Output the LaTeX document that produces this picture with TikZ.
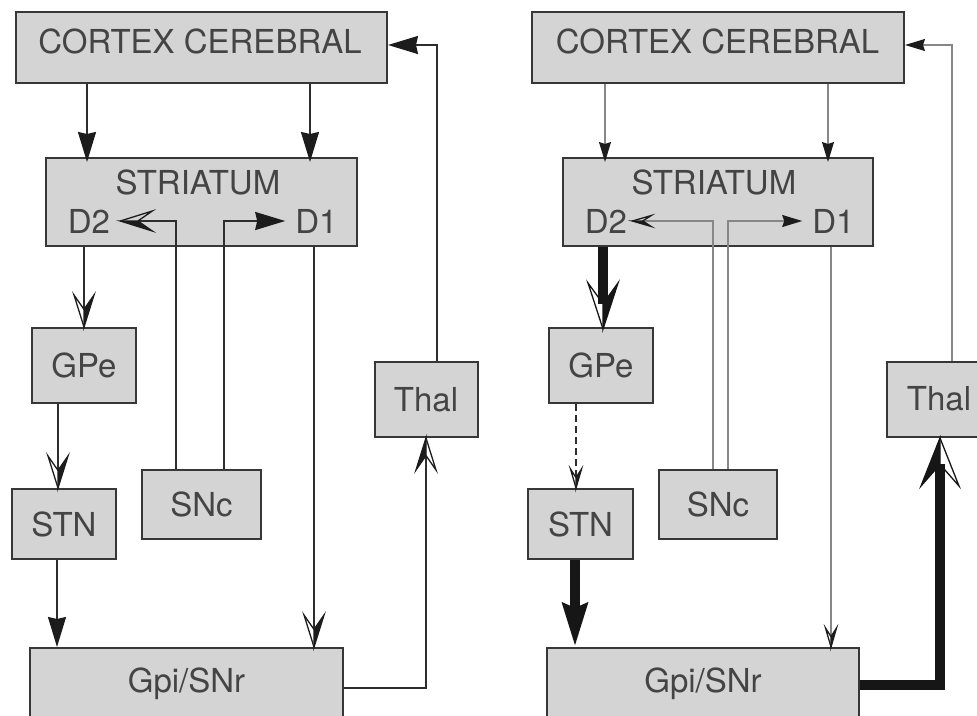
\documentclass[tikz,border=0pt]{standalone}
\usepackage{fontspec}
\setmainfont{TeX Gyre Heros}
\usetikzlibrary{arrows.meta}
\definecolor{boxfill}{RGB}{212,212,212}
\definecolor{boxline}{RGB}{55,55,55}
\definecolor{txt}{RGB}{68,68,68}
\definecolor{lnL}{RGB}{45,45,45}
\definecolor{lnR}{RGB}{135,135,135}
\definecolor{thk}{RGB}{22,22,22}
\definecolor{tipc}{RGB}{28,28,28}

\pgfdeclarearrow{
  name = Half,
  parameters = {\the\pgfarrowlength,\the\pgfarrowwidth},
  setup code = {
    \pgfarrowssettipend{0pt}
    \pgfarrowssetlineend{-0.55\pgfarrowlength}
    \pgfarrowssetbackend{-\pgfarrowlength}
    \pgfarrowshullpoint{0pt}{0pt}
    \pgfarrowshullpoint{-\pgfarrowlength}{.5\pgfarrowwidth}
    \pgfarrowshullpoint{-\pgfarrowlength}{-.5\pgfarrowwidth}
    \pgfarrowssavethe\pgfarrowlength
    \pgfarrowssavethe\pgfarrowwidth
  },
  drawing code = {
    \pgfsetdash{}{0pt}
    \pgfsetlinewidth{1.3pt}
    \pgfsetmiterjoin
    \pgfpathmoveto{\pgfqpoint{0pt}{0pt}}
    \pgfpathlineto{\pgfqpoint{-\pgfarrowlength}{.5\pgfarrowwidth}}
    \pgfpathlineto{\pgfqpoint{-.55\pgfarrowlength}{0pt}}
    \pgfpathclose
    \pgfusepathqfillstroke
    \pgfpathmoveto{\pgfqpoint{-.55\pgfarrowlength}{0pt}}
    \pgfpathlineto{\pgfqpoint{-\pgfarrowlength}{-.5\pgfarrowwidth}}
    \pgfpathlineto{\pgfqpoint{0pt}{0pt}}
    \pgfusepathqstroke
  },
  defaults = {length = 30pt, width = 20pt}
}

\tikzset{
  box/.style={draw=boxline, fill=boxfill, line width=2pt, inner sep=0pt,
    text=txt, font=\fontsize{33}{38}\selectfont},
  lbl/.style={inner sep=0pt, text=txt, font=\fontsize{33}{38}\selectfont},
  lineL/.style={draw=lnL, line width=1.8pt},
  lineR/.style={draw=lnR, line width=1.2pt},
  thick line/.style={draw=thk, line width=10pt, line join=miter},
  fL/.style={-{Stealth[length=30pt,width=18pt,inset=2pt,color=tipc]}},
  hL/.style={-{Half[length=32pt,width=20pt,color=tipc]}},
  fR/.style={-{Stealth[length=20pt,width=12pt,inset=2pt,color=tipc]}},
  hR/.style={-{Half[length=19pt,width=11pt,color=tipc]}},
}

\begin{document}
\begin{tikzpicture}[x=1pt,y=1pt]
\useasboundingbox (0,0) rectangle (977,-715);

% ---------------- left panel ----------------
\node[box, minimum width=371, minimum height=71] (ctxL) at (201.5,-47.5) {};
\node[lbl] (ctxLt) at (200,-41.5) {CORTEX CEREBRAL};
\node[box, minimum width=311, minimum height=88] (striL) at (201.5,-202) {};
\node[lbl] (striLt) at (198,-182.5) {STRIATUM};
\node[lbl, inner xsep=10pt] (d2L) at (89,-221) {D2};
\node[lbl, inner xsep=10pt] (d1L) at (316.5,-221) {D1};
\node[box, minimum width=104, minimum height=75] (gpeL) at (84,-365.5) {GPe};
\node[box, minimum width=104, minimum height=70] (stnL) at (64,-524) {STN};
\node[box, minimum width=119, minimum height=69] (sncL) at (201.5,-504.5) {SNc};
\node[box, minimum width=103, minimum height=75] (thalL) at (426,-399.5) {Thal};
\node[box, minimum width=313, minimum height=72] (gpiL) at (186.5,-684) {Gpi/SNr};

\draw[lineL, fL] ([xshift=-2pt]d2L.center |- ctxL.south) -- ([xshift=-2pt,yshift=-5pt]d2L.center |- striL.north);
\draw[lineL, fL] ([xshift=-6.5pt]d1L.center |- ctxL.south) -- ([xshift=-6.5pt,yshift=-5pt]d1L.center |- striL.north);
\draw[lineL, hL] ([xshift=-25.5pt]sncL.north) |- (d2L.east);
\draw[lineL, fL] ([xshift=22.5pt]sncL.north) |- (d1L.west);
\draw[lineL, hL] (gpeL.north |- striL.south) -- (gpeL.north);
\draw[lineL, hL] ([xshift=-6pt]stnL.north |- gpeL.south) -- ([xshift=-6pt]stnL.north);
\draw[lineL, fL] ([xshift=-7pt]stnL.south) -- ([xshift=-7pt]stnL.south |- gpiL.north);
\draw[lineL, hL] ([xshift=-2.5pt]d1L.center |- striL.south) -- ([xshift=-2.5pt]d1L.center |- gpiL.north);
\draw[lineL, hL] ([yshift=-4pt]gpiL.east) -| (thalL.south);
\draw[lineL, fL] ([xshift=11pt]thalL.north) |- ([yshift=2.5pt]ctxL.east);

% ---------------- right panel ----------------
\node[box, minimum width=372, minimum height=71] (ctxR) at (718,-47.5) {};
\node[lbl] (ctxRt) at (717.5,-41.5) {CORTEX CEREBRAL};
\node[box, minimum width=310, minimum height=88] (striR) at (718,-202) {};
\node[lbl] (striRt) at (714,-182.5) {STRIATUM};
\node[lbl, inner xsep=5pt] (d2R) at (606,-221) {D2};
\node[lbl, inner xsep=10pt] (d1R) at (833.5,-221) {D1};
\node[box, minimum width=104, minimum height=75] (gpeR) at (601,-365.5) {GPe};
\node[box, minimum width=105, minimum height=70] (stnR) at (580.5,-524) {STN};
\node[box, minimum width=118, minimum height=69] (sncR) at (718,-504.5) {SNc};
\node[box, minimum width=103, minimum height=75] (thalR) at (938.5,-399.5) {};
\node[lbl] (thalRt) at (939,-398.5) {Thal};
\node[box, minimum width=312, minimum height=72] (gpiR) at (703,-684) {Gpi/SNr};

\draw[lineR, fR] ([xshift=-1pt]d2R.center |- ctxR.south) -- ([xshift=-1pt,yshift=-5pt]d2R.center |- striR.north);
\draw[lineR, fR] ([xshift=-5.5pt]d1R.center |- ctxR.south) -- ([xshift=-5.5pt,yshift=-5pt]d1R.center |- striR.north);
\draw[lineR, hR] ([xshift=-5pt]sncR.north) |- (d2R.east);
\draw[lineR, fR] ([xshift=10pt]sncR.north) |- (d1R.west);
\draw[thick line, -{Half[length=46pt,width=30pt,color=thk]}] ([xshift=2pt]gpeR.north |- striR.south) -- ([xshift=2pt,yshift=-2pt]gpeR.north);
\draw[draw=lnL, line width=1.8pt, dash pattern=on 7pt off 4pt, hR] ([xshift=-4.5pt]stnR.north |- gpeR.south) -- ([xshift=-4.5pt]stnR.north);
\draw[thick line, -{Stealth[length=43pt,width=24pt,inset=4pt,color=thk]}] ([xshift=-5.5pt]stnR.south) -- ([xshift=-5.5pt]stnR.south |- gpiR.north);
\draw[lineR, hR] ([xshift=-2.5pt]d1R.center |- striR.south) -- ([xshift=-2.5pt]d1R.center |- gpiR.north);
\draw[thick line, -{Half[length=48pt,width=38pt,color=thk]}] ([yshift=-1pt]gpiR.east) -| ([xshift=1.5pt]thalR.south);
\draw[lineR, fR] ([xshift=13.5pt]thalR.north) |- ([yshift=2.5pt]ctxR.east);
\end{tikzpicture}
\end{document}
